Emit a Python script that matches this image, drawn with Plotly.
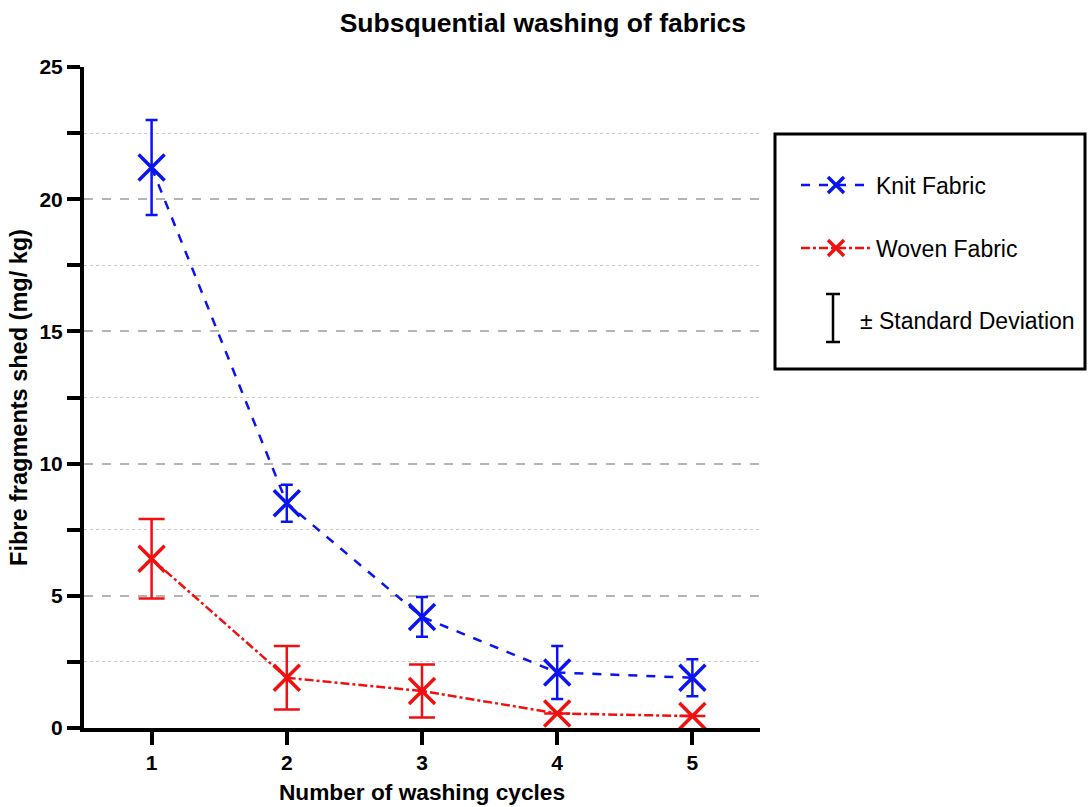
import plotly.graph_objects as go

cycles = [1, 2, 3, 4, 5]
knit_mean = [21.2, 8.5, 4.2, 2.1, 1.9]
knit_sd = [1.8, 0.7, 0.75, 1.0, 0.7]
woven_mean = [6.4, 1.9, 1.4, 0.55, 0.45]
woven_sd = [1.5, 1.2, 1.0, None, None]

BLUE = "#0a14f0"
RED = "#f01010"
FONT = "Liberation Sans"

fig = go.Figure()
fig.add_trace(go.Scatter(
    x=cycles, y=knit_mean, name="Knit Fabric", mode="lines+markers",
    line=dict(color=BLUE, width=2.5, dash="dash"),
    marker=dict(symbol="x-thin-open", size=26, color=BLUE, line=dict(color=BLUE, width=3.5)),
    error_y=dict(type="data", array=knit_sd, visible=True, color=BLUE, thickness=2.5, width=6),
    legend="legend",
))
fig.add_trace(go.Scatter(
    x=cycles, y=woven_mean, name="Woven Fabric", mode="lines+markers",
    line=dict(color=RED, width=2.5, dash="dashdot"),
    marker=dict(symbol="x-thin-open", size=26, color=RED, line=dict(color=RED, width=3.5)),
    error_y=dict(type="data", array=woven_sd, visible=True, color=RED, thickness=2.5, width=13),
    legend="legend2",
))

# plot area in pixels: x 84..760, y 67..728
W, H = 1089, 807
L, R, T, B = 84, 329, 67, 79
PW, PH = W - L - R, H - T - B

def px(xp):
    return (xp - L) / PW

def py(yp):
    return (728 - yp) / PH

leg_common = dict(bgcolor="rgba(0,0,0,0)", borderwidth=0, itemwidth=70,
                  font=dict(family=FONT, size=23, color="black"),
                  xanchor="left", yanchor="middle", itemsizing="trace")
fig.update_layout(
    legend=dict(x=px(796), y=py(185), **leg_common),
    legend2=dict(x=px(796), y=py(248), **leg_common),
)

shapes = [
    dict(type="rect", xref="paper", yref="paper", x0=px(775), x1=px(1085), y0=py(369), y1=py(134),
         line=dict(color="black", width=3)),
    dict(type="line", xref="paper", yref="paper", x0=px(833), x1=px(833), y0=py(342), y1=py(294),
         line=dict(color="black", width=2.5)),
    dict(type="line", xref="paper", yref="paper", x0=px(826), x1=px(840), y0=py(342), y1=py(342),
         line=dict(color="black", width=2.5)),
    dict(type="line", xref="paper", yref="paper", x0=px(826), x1=px(840), y0=py(294), y1=py(294),
         line=dict(color="black", width=2.5)),
]
annotations = [
    dict(text="± Standard Deviation", xref="paper", yref="paper", x=px(858), y=py(321),
         xanchor="left", yanchor="middle", showarrow=False,
         font=dict(family=FONT, size=23, color="black")),
]

tickfont = dict(family=FONT, size=21, color="black", weight="bold")
fig.update_layout(
    width=W, height=H,
    margin=dict(l=L, r=R, t=T, b=B, autoexpand=False),
    paper_bgcolor="white", plot_bgcolor="white",
    showlegend=True,
    shapes=shapes, annotations=annotations,
    title=dict(text="<b>Subsquential washing of fabrics</b>", x=px(421), xanchor="center",
               y=1 - 23 / H, yanchor="middle",
               font=dict(family=FONT, size=26.5, color="black")),
    xaxis=dict(
        range=[0.5, 5.5], tickvals=cycles, ticktext=[str(c) for c in cycles],
        showgrid=False, zeroline=False, automargin=False,
        showline=True, linecolor="black", linewidth=4,
        ticks="outside", ticklen=13, tickwidth=4, tickcolor="black",
        tickfont=tickfont,
        title=dict(text="<b>Number of washing cycles</b>", standoff=12,
                   font=dict(family=FONT, size=22.7, color="black")),
    ),
    yaxis=dict(
        range=[0, 25], tick0=0, dtick=5, zeroline=False, automargin=False,
        showline=True, linecolor="black", linewidth=4,
        ticks="outside", ticklen=13, tickwidth=4, tickcolor="black",
        tickfont=tickfont,
        showgrid=True, gridcolor="#b4b4b4", gridwidth=1.5, griddash="dash",
        minor=dict(dtick=2.5, showgrid=True, gridcolor="#c8c8c8", gridwidth=1, griddash="dot",
                   ticks="outside", ticklen=13, tickwidth=4, tickcolor="black"),
        title=dict(text="<b>Fibre fragments shed (mg/ kg)</b>", standoff=6,
                   font=dict(family=FONT, size=23.5, color="black")),
    ),
)

fig.write_html("out.html",
               config={"displayModeBar": False},
               post_script="document.body.style.margin='0px';document.body.style.overflow='hidden';")
